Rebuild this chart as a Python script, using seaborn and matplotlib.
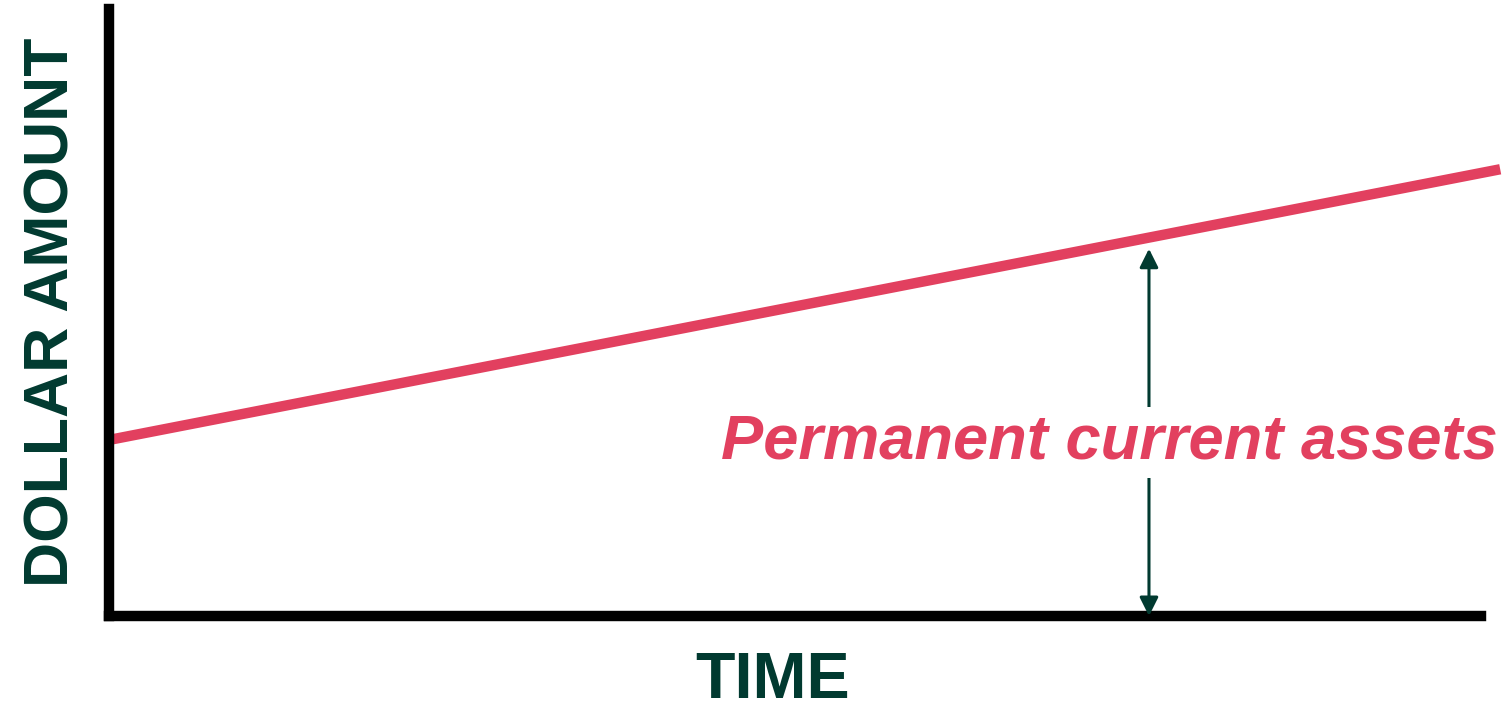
import matplotlib
matplotlib.use("Agg")
import matplotlib.pyplot as plt
import pandas as pd
import seaborn as sns

# values (axes run 0..100 both ways)
time = [0.0, 101.4]
amount = [29.0, 73.6]
arrow_x = 75.8
arrow_top = 60.5
label_text = "Permanent current assets"
label_x = 72.9
label_y = 28.6

RED = "#E2405F"
DARK = "#013A30"

sns.set_style("white")
plt.rcParams['font.family'] = ['Liberation Sans', 'DejaVu Sans']

df = pd.DataFrame({"time": time, "amount": amount})

fig = plt.figure(figsize=(15.12, 7.06), dpi=100)
ax = fig.add_axes([109 / 1512, 90 / 706, 1372 / 1512, 607 / 706])

sns.lineplot(data=df, x="time", y="amount", ax=ax, color=RED, linewidth=7.5,
             solid_capstyle="butt", clip_on=False)

ax.annotate("", xy=(arrow_x, arrow_top), xytext=(arrow_x, 0),
            arrowprops=dict(arrowstyle="<|-|>", color=DARK, lw=2.2,
                            mutation_scale=28, shrinkA=0, shrinkB=0))
ax.text(label_x, label_y, label_text, color=RED, fontsize=45.5, fontweight="bold",
        fontstyle="italic", ha="center", va="center",
        bbox=dict(facecolor="white", edgecolor="none", pad=4))

ax.set_xlim(0, 100)
ax.set_ylim(0, 100)
ax.set_xticks([])
ax.set_yticks([])
ax.set_xlabel("TIME", fontsize=46.5, fontweight="bold", color=DARK)
ax.set_ylabel("DOLLAR AMOUNT", fontsize=45, fontweight="bold", color=DARK, labelpad=20)
ax.xaxis.set_label_coords(0.484, -0.058)
ax.xaxis.label.set_va("top")
for side in ["top", "right"]:
    ax.spines[side].set_visible(False)
for side in ["left", "bottom"]:
    ax.spines[side].set_linewidth(7.5)
    ax.spines[side].set_color("black")

fig.savefig("out.png", dpi=100)
